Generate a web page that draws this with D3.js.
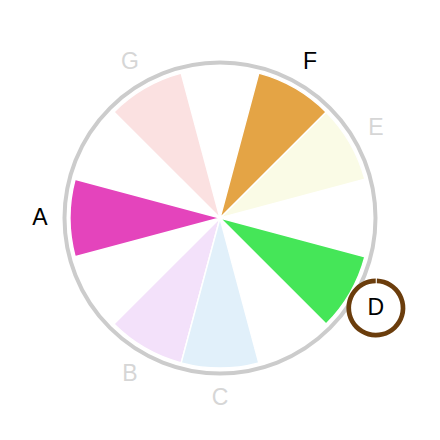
<!DOCTYPE html>
<html><head><meta charset="utf-8">
<script src="https://cdn.jsdelivr.net/npm/d3@7"></script>
<style>html,body{margin:0;padding:0;background:#fff;}svg{display:block;}</style>
</head><body>
<svg id="chart" width="440" height="440"></svg>
<script>
const categories = ["A", "B", "C", "D", "E", "F", "G"];
const slots = [8, 6, 5, 3, 1, 0, 10];           // position on a 12-slot dial
const colors = ["#e444bc", "#af37de", "#379bde", "#45e658", "#dee558", "#e4a445", "#e43737"];
const highlighted = ["A", "D", "F"];
const focused = "D";
const slotCount = 12;

const width = 440, height = 440, cx = 220, cy = 218;
const svg = d3.select("#chart");
const g = svg.append("g").attr("transform", `translate(${cx},${cy})`);

const angle = d3.scaleLinear().domain([0, slotCount]).range([Math.PI / 12, Math.PI / 12 + 2 * Math.PI]);
const rOuter = 150, rRing = 155.5, rLabel = 180;

const data = categories.map((c, i) => ({ cat: c, slot: slots[i], color: colors[i], on: highlighted.includes(c) }));

g.append("circle").attr("r", rRing).attr("fill", "none").attr("stroke", "#cccccc").attr("stroke-width", 4);

const arc = d3.arc().innerRadius(0).outerRadius(rOuter)
  .startAngle(d => angle(d.slot)).endAngle(d => angle(d.slot + 1));

g.selectAll("path.w").data(data).join("path").attr("class", "w")
  .attr("d", arc)
  .attr("fill", d => d.color)
  .attr("fill-opacity", d => d.on ? 1 : 0.15)
  .attr("stroke", "#fff").attr("stroke-width", 1.5);

const mid = d => (angle(d.slot) + angle(d.slot + 1)) / 2;
const lx = d => rLabel * Math.sin(mid(d));
const ly = d => -rLabel * Math.cos(mid(d));

const fd = data.find(d => d.cat === focused);
const fg = g.append("g").attr("transform", `translate(${lx(fd)},${ly(fd)})`);
fg.append("circle").attr("r", 27).attr("fill", "#fff");
fg.append("path")
  .attr("d", d3.arc().innerRadius(24.8).outerRadius(29.5).startAngle(0.035).endAngle(2 * Math.PI - 0.005)())
  .attr("fill", "#6b3d0c");

g.selectAll("text.l").data(data).join("text").attr("class", "l")
  .attr("x", lx).attr("y", d => ly(d) - 1)
  .attr("text-anchor", "middle").attr("dominant-baseline", "central")
  .attr("font-family", "Liberation Sans, Arial, sans-serif").attr("font-size", 23)
  .attr("fill", d => d.on ? "#000" : "#d6d6d6")
  .text(d => d.cat);
</script>
</body></html>
